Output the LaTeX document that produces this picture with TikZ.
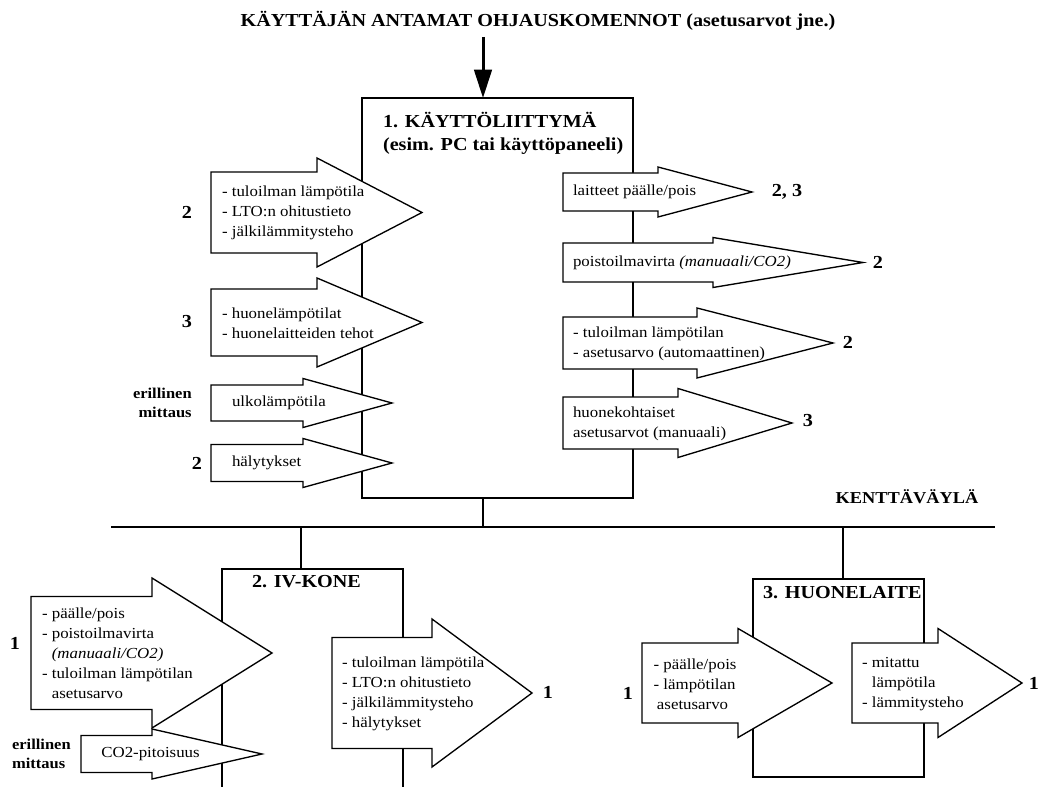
\documentclass[tikz,border=0pt]{standalone}
\usepackage{fontspec}
\setmainfont[FakeStretch=1.1]{Liberation Serif}
\usetikzlibrary{arrows.meta}

\newcommand{\blockarrow}[6]{%
  \draw[blockarr] (#1,{#4-#5}) -- (#2,{#4-#5}) -- (#2,{#4-#6}) -- (#3,#4)
    -- (#2,{#4+#6}) -- (#2,{#4+#5}) -- (#1,{#4+#5}) -- cycle;}

\begin{document}
\begin{tikzpicture}[x=0.6pt,y=-0.6pt,
  frame/.style={draw,line width=0.8pt},
  blockarr/.style={draw,line width=0.8pt,fill=white},
  txt/.style={anchor=west,align=left,inner sep=0pt,font=\fontsize{9.2}{12}\selectfont},
  big/.style={inner sep=0pt,font=\fontsize{11}{13.8}\selectfont\bfseries},
  num/.style={inner sep=0pt,font=\fontsize{11}{13}\selectfont\bfseries},
  note/.style={inner sep=0pt,font=\fontsize{9}{11.6}\selectfont\bfseries}]
\useasboundingbox (0,0) rectangle (1040,787);

\node (cmd) at (538,21) [big] {KÄYTTÄJÄN ANTAMAT OHJAUSKOMENNOT (asetusarvot jne.)};
\coordinate (cmd in) at (483,37);
\coordinate (ui top) at (483,98);
\coordinate (ui bottom) at (483,498);
\coordinate (bus west) at (111,527);
\coordinate (bus east) at (995,527);
\coordinate (bus ui) at (483,527);
\coordinate (bus iv) at (301,527);
\coordinate (bus room) at (843,527);
\coordinate (iv top) at (301,569);
\coordinate (room top) at (843,579);

\draw[frame] (362,98) rectangle (633,498);
\draw[frame] (222,800) -- (222,569) -- (403,569) -- (403,800);
\draw[frame] (753,579) rectangle (924,777);
\draw[frame] (bus west) -- (bus east);
\draw[frame] (ui bottom) -- (bus ui);
\draw[frame] (bus iv) -- (iv top);
\draw[frame] (bus room) -- (room top);
\draw[-{Triangle[length=17pt,width=10.5pt]},line width=1.8pt] (cmd in) -- (ui top);

\node (ui title) at (382.7,133.5) [big,anchor=west,align=left] {1. KÄYTTÖLIITTYMÄ\\(esim. PC tai käyttöpaneeli)};
\node (iv title) at (251.7,582) [big,anchor=west] {2. IV-KONE};
\node (room title) at (762.7,593) [big,anchor=west] {3. HUONELAITE};
\node (bus label) at (907,497) [big,font=\fontsize{10}{12}\selectfont\bfseries] {KENTTÄVÄYLÄ};

\blockarrow{211}{317}{422}{212.5}{40.5}{54.5}
\blockarrow{211}{317}{422}{322.5}{33.5}{44.5}
\blockarrow{211}{303}{392}{403}{18}{24.5}
\blockarrow{211}{303}{392}{463}{18.5}{24.5}
\blockarrow{563}{658}{752}{192}{19}{25}
\blockarrow{563}{713}{863}{262.5}{19.5}{25}
\blockarrow{563}{697}{833}{343}{26}{35}
\blockarrow{563}{678}{792}{423}{26}{34.5}
\blockarrow{31}{152}{272}{653}{56.5}{75}
\blockarrow{81}{152}{262}{754}{18.5}{25}
\blockarrow{332}{432}{532}{693}{55.5}{74}
\blockarrow{642}{738}{832}{683}{40}{54.5}
\blockarrow{852}{938}{1022}{683}{40}{54.5}

\node (a) at (221.7,212.5) [txt] {- tuloilman lämpötila\\- LTO:n ohitustieto\\- jälkilämmitysteho};
\node (b) at (221.7,323) [txt] {- huonelämpötilat\\- huonelaitteiden tehot};
\node (c) at (231.7,403) [txt] {ulkolämpötila};
\node (d) at (231.7,463) [txt] {hälytykset};
\node (e) at (572.7,192) [txt] {laitteet päälle/pois};
\node (f) at (572.7,263) [txt] {poistoilmavirta \textit{(manuaali/CO2)}};
\node (g) at (572.7,343.5) [txt] {- tuloilman lämpötilan\\- asetusarvo (automaattinen)};
\node (h) at (572.7,423.5) [txt] {huonekohtaiset\\asetusarvot (manuaali)};
\node (i) at (41.7,653) [txt] {- päälle/pois\\- poistoilmavirta\\\phantom{- }\textit{(manuaali/CO2)}\\- tuloilman lämpötilan\\\phantom{- }asetusarvo};
\node (j) at (101,754) [txt] {CO2-pitoisuus};
\node (k) at (341.7,694) [txt] {- tuloilman lämpötila\\- LTO:n ohitustieto\\- jälkilämmitysteho\\- hälytykset};
\node (l) at (653.3,684) [txt] {- päälle/pois\\- lämpötilan\\\hspace{2pt}asetusarvo};
\node (m) at (861.7,684) [txt] {- mitattu\\\phantom{- }lämpötila\\- lämmitysteho};

\node (a src) at (187,212) [num] {2};
\node (b src) at (187,322) [num] {3};
\node (c src) at (192,403) [note,anchor=east,align=right] {erillinen\\mittaus};
\node (d src) at (197,463) [num] {2};
\node (e dst) at (787,192) [num] {2, 3};
\node (f dst) at (878,262.5) [num] {2};
\node (g dst) at (848,342) [num] {2};
\node (h dst) at (808,421) [num] {3};
\node (i src) at (15,643) [num] {1};
\node (j src) at (11.7,754) [note,anchor=west,align=left] {erillinen\\mittaus};
\node (k dst) at (548,692) [num] {1};
\node (l src) at (628,693) [num] {1};
\node (m dst) at (1034,683) [num] {1};
\end{tikzpicture}
\end{document}
